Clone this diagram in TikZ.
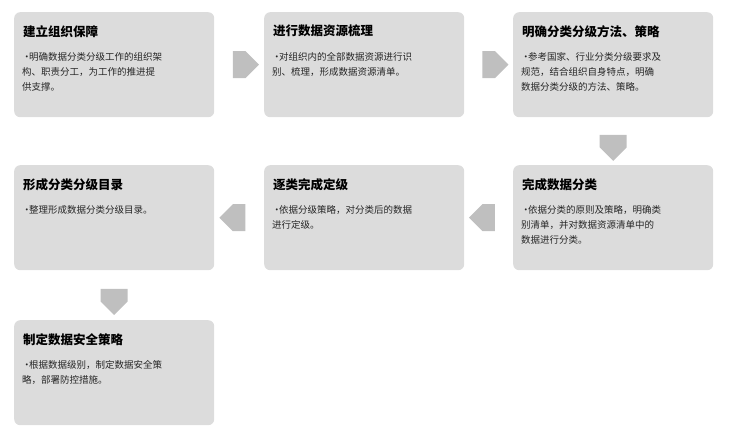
\documentclass[tikz,border=0pt]{standalone}
\usepackage{fontspec}
\setmainfont{Noto Sans CJK SC}
\usetikzlibrary{shapes.arrows,calc}
\tikzset{
  box/.style={fill=boxgray,rounded corners=6pt,minimum width=200pt,minimum height=105pt,anchor=north west,inner sep=0pt},
  txt/.style={anchor=north west,text width=186pt,align=left,inner sep=0pt,font=\fontsize{9.5pt}{15pt}\selectfont,text=black!85},
  ttl/.style={anchor=north west,inner sep=0pt,font=\fontsize{12.5pt}{14pt}\selectfont\bfseries},
  arr/.style={single arrow,fill=arrgray,minimum height=26pt,minimum width=27pt,single arrow head extend=0pt,inner sep=4pt,shape border rotate=#1}
}
\definecolor{boxgray}{HTML}{DCDCDC}
\definecolor{arrgray}{HTML}{BFBFBF}
\newcommand{\bul}[1]{\hangindent=7pt\hangafter=1\noindent\makebox[7pt][l]{•}#1}
\begin{document}
\begin{tikzpicture}[x=1pt,y=-1pt]
\useasboundingbox (0,0) rectangle (731,434);
\node[box] (b1) at (14,12) {};
\node[box] (b2) at (264,12) {};
\node[box] (b3) at (513,12) {};
\node[box] (b4) at (513,165) {};
\node[box] (b5) at (264,165) {};
\node[box] (b6) at (14,165) {};
\node[box] (b7) at (14,320) {};
\foreach \b/\t/\x in {b1/建立组织保障/{明确数据分类分级工作的组织架\\构、职责分工，为工作的推进提\\供支撑。},
  b2/进行数据资源梳理/{对组织内的全部数据资源进行识\\别、梳理，形成数据资源清单。},
  b3/明确分类分级方法、策略/{参考国家、行业分类分级要求及\\规范，结合组织自身特点，明确\\数据分类分级的方法、策略。},
  b4/完成数据分类/{依据分类的原则及策略，明确类\\别清单，并对数据资源清单中的\\数据进行分类。},
  b5/逐类完成定级/{依据分级策略，对分类后的数据\\进行定级。},
  b6/形成分类分级目录/{整理形成数据分类分级目录。},
  b7/制定数据安全策略/{根据数据级别，制定数据安全策\\略，部署防控措施。}}{
  \node[ttl] (\b t) at ([shift={(9,13)}]\b.north west) {\t};
  \node[txt] (\b x) at ([shift={(8,40)}]\b.north west) {\bul{\x}};
}
\node[arr=0] (a1) at ($(b1.east)!0.5!(b2.west)$) {};
\node[arr=0] (a2) at ($(b2.east)!0.5!(b3.west)$) {};
\node[arr=270] (a3) at ($(b3.south)!0.5!(b4.north)$) {};
\node[arr=180] (a4) at ($(b4.west)!0.5!(b5.east)$) {};
\node[arr=180] (a5) at ($(b5.west)!0.5!(b6.east)$) {};
\node[arr=270] (a6) at ($(b6.south)!0.5!(b7.north)$) {};
\end{tikzpicture}
\end{document}
